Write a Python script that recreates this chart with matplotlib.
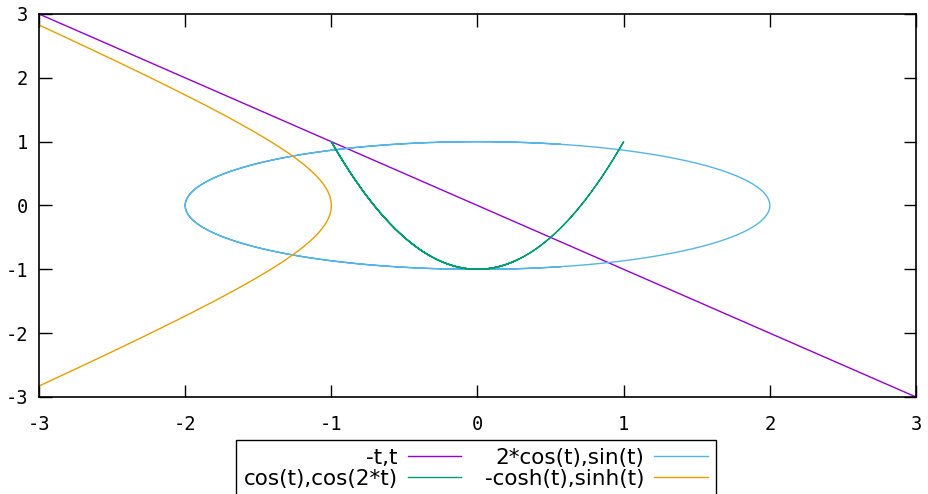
import numpy as np
import matplotlib
matplotlib.use('Agg')
import matplotlib.pyplot as plt

# parametric curves, as given in the key
t = np.linspace(-5, 5, 2001)
labels = ['-t,t', '2*cos(t),sin(t)', 'cos(t),cos(2*t)', '-cosh(t),sinh(t)']
colors = ['#9400d3', '#56b4e9', '#009e73', '#e69f00']
xs = [-t, 2*np.cos(t), np.cos(t), -np.cosh(t)]
ys = [t, np.sin(t), np.cos(2*t), np.sinh(t)]

ticks = [-3, -2, -1, 0, 1, 2, 3]

plt.rcParams['font.family'] = ['DejaVu Sans']
plt.rcParams['axes.unicode_minus'] = False

fig = plt.figure(figsize=(9.29, 4.94), dpi=100)
ax = fig.add_axes([39/929, 1 - 397/494, (916-39)/929, (397-14)/494])

for x, y, c, lab in zip(xs, ys, colors, labels):
	ax.plot(x, y, color=c, lw=1, label=lab)

ax.set_xlim(-3, 3)
ax.set_ylim(-3, 3)
ax.set_xticks(ticks)
ax.set_yticks(ticks)
ax.tick_params(direction='in', length=9, width=1, top=True, right=True,
               labelsize=13.5)
ax.tick_params(axis='x', pad=13)
ax.tick_params(axis='y', pad=8)
for lbl in ax.get_xticklabels() + ax.get_yticklabels():
	lbl.set_family('DejaVu Sans Mono')
for s in ax.spines.values():
	s.set_linewidth(1.2)

# reorder so rows read like the key: row1 = first two, row2 = last two
h, l = ax.get_legend_handles_labels()
order = [0, 2, 1, 3]
leg = fig.legend([h[i] for i in order], [l[i] for i in order], ncol=2,
                 loc='upper center', bbox_to_anchor=(476/929, 1 - 440/494),
                 markerfirst=False, fancybox=False, framealpha=1,
                 edgecolor='black', fontsize=15.5, handlelength=2.5,
                 handletextpad=0.45, columnspacing=1.1, labelspacing=0.05,
                 borderpad=0.35, borderaxespad=0)
leg.get_frame().set_linewidth(1.0)

fig.savefig('out.png', dpi=100)
